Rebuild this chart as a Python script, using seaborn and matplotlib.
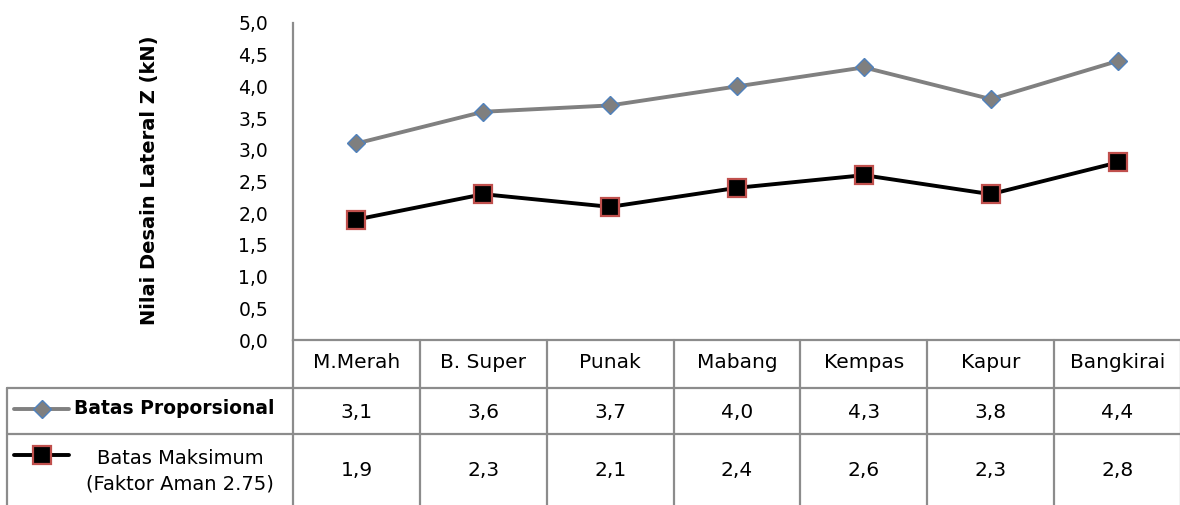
import matplotlib
matplotlib.use("Agg")
import matplotlib.pyplot as plt
from matplotlib.lines import Line2D
from matplotlib.ticker import FuncFormatter, MultipleLocator
import matplotlib.transforms as mtransforms
import seaborn as sns

# Wood species and design values (kN)
species = ["M.Merah", "B. Super", "Punak", "Mabang", "Kempas", "Kapur", "Bangkirai"]
batas_proporsional = [3.1, 3.6, 3.7, 4.0, 4.3, 3.8, 4.4]
batas_maksimum = [1.9, 2.3, 2.1, 2.4, 2.6, 2.3, 2.8]
label_prop = "Batas Proporsional"
label_maks = "Batas Maksimum\n(Faktor Aman 2.75)"
y_label = "Nilai Desain Lateral Z (kN)"

sns.set_style("white")
plt.rcParams["font.family"] = ["DejaVu Sans"]
plt.rcParams["text.color"] = "black"
plt.rcParams["ytick.color"] = "black"
plt.rcParams["ytick.labelcolor"] = "black"

W, H = 1180, 505
fig = plt.figure(figsize=(W / 100, H / 100), dpi=100)

def fx(px):
    return px / W

def fy(py):
    return 1 - py / H

def comma(v):
    return f"{v:.1f}".replace(".", ",")

ax = fig.add_axes([fx(293), fy(340), fx(1181) - fx(293), fy(23) - fy(340)])
idx = list(range(len(species)))

grid_col = "#8c8c8c"
prop_style = dict(color="#808080", linewidth=2.8, marker="D", markersize=9,
                  markerfacecolor="#7f7f7f", markeredgecolor="#4f81bd", markeredgewidth=1.0)
maks_style = dict(color="black", linewidth=2.8, marker="s", markersize=12.5,
                  markerfacecolor="black", markeredgecolor="#c0504d", markeredgewidth=1.6)

sns.lineplot(x=idx, y=batas_proporsional, ax=ax, **prop_style)
sns.lineplot(x=idx, y=batas_maksimum, ax=ax, **maks_style)

ax.set_xlim(-0.5, len(species) - 0.5)
ax.set_ylim(0, 5)
ax.yaxis.set_major_locator(MultipleLocator(0.5))
ax.yaxis.set_major_formatter(FuncFormatter(lambda v, p: comma(v)))
ax.tick_params(axis="y", length=0, pad=18, labelsize=13.5, labelcolor="black")
ax.set_xticks([])
ax.set_xlabel("")
for s in ["top", "right"]:
    ax.spines[s].set_visible(False)
for s in ["left", "bottom"]:
    ax.spines[s].set_color(grid_col)
    ax.spines[s].set_linewidth(1.6)

fig.text(fx(150), fy(180), y_label, rotation=90, ha="center", va="center",
         fontsize=14, fontweight="bold")

# Data table below the plot
bt = mtransforms.blended_transform_factory(ax.transData, fig.transFigure)
row_y = [363, 412, 470]  # header, row 1, row 2 centres (px)

for i, name in enumerate(species):
    ax.text(i, fy(row_y[0]), name, transform=bt, ha="center", va="center", fontsize=14.5)
    ax.text(i, fy(row_y[1]), comma(batas_proporsional[i]),
            transform=bt, ha="center", va="center", fontsize=14.5)
    ax.text(i, fy(row_y[2]), comma(batas_maksimum[i]),
            transform=bt, ha="center", va="center", fontsize=14.5)

# column separators
for i in range(len(species)):
    fig.add_artist(Line2D([i + 0.5, i + 0.5], [fy(340), fy(H + 2)], transform=bt,
                          color=grid_col, linewidth=1.6))
fig.add_artist(Line2D([fx(293), fx(293)], [fy(340), fy(H + 2)], transform=fig.transFigure,
                      color=grid_col, linewidth=1.6))
# row separators and left border
for py in (388, 434):
    fig.add_artist(Line2D([fx(7), 1.0], [fy(py), fy(py)], transform=fig.transFigure,
                          color=grid_col, linewidth=1.6))
fig.add_artist(Line2D([fx(7), fx(7)], [fy(388), fy(H + 2)], transform=fig.transFigure,
                      color=grid_col, linewidth=1.6))

# legend keys inside the table
key_x = [fx(14), fx(42), fx(69)]
fig.add_artist(Line2D(key_x, [fy(409)] * 3, transform=fig.transFigure,
                      markevery=[1], **prop_style))
fig.add_artist(Line2D(key_x, [fy(455)] * 3, transform=fig.transFigure,
                      markevery=[1], **maks_style))
fig.text(fx(74), fy(409), label_prop, ha="left", va="center", fontsize=13.5,
         fontweight="bold")
fig.text(fx(180), fy(471), label_maks, ha="center", va="center", fontsize=14,
         linespacing=1.4)

fig.savefig("out.png", dpi=100)
